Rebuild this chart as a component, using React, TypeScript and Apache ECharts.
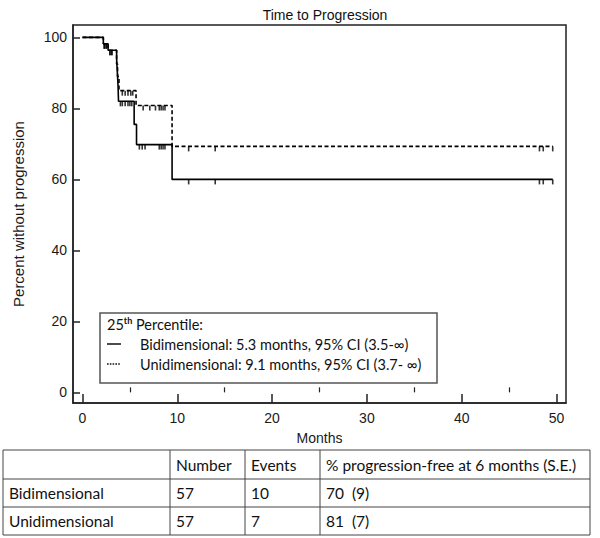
import React, { useEffect, useRef } from "react";
import * as echarts from "echarts";

// ---------- data ----------
const xTickValues = [0, 10, 20, 30, 40, 50];
const xMinorTickValues = [5, 15, 25, 35, 45];
const yTickValues = [0, 20, 40, 60, 80, 100];

// Kaplan-Meier step points (time in months, % without progression)
const biTimes = [0, 2.2, 2.7, 3.6, 3.65, 3.7, 3.75, 3.8, 5.45, 5.7, 9.45, 49.6];
const biSurvival = [100, 98.2, 96.4, 94, 91.5, 89, 86.5, 82, 75.5, 69.8, 60, 60];
const uniTimes = [0, 2.2, 2.7, 3.6, 3.7, 3.85, 5.65, 9.45, 49.6];
const uniSurvival = [100, 98.2, 96.4, 92.5, 89, 85, 80.8, 69.3, 69.3];

// censored observations (months)
const biCensored = [2.3, 2.5, 2.9, 3.1, 4.0, 4.2, 4.5, 4.8, 5.0, 5.2, 6.0, 6.3, 6.6, 8.1, 8.3, 8.5, 8.7, 11.2, 14.0, 48.2, 48.6, 49.6];
const uniCensored = [2.3, 2.5, 2.9, 3.1, 4.2, 4.5, 4.8, 5.1, 5.3, 6.4, 7.1, 7.7, 8.1, 8.3, 8.5, 8.7, 11.2, 14.0, 48.2, 48.6, 49.6];

const legendHeading = ["25", "th", " Percentile:"];
const legendLabels = [
  "Bidimensional: 5.3 months, 95% CI (3.5-\u221e)",
  "Unidimensional: 9.1 months, 95% CI (3.7- \u221e)",
];

const tableHeader = ["", "Number", "Events", "% progression-free at 6 months (S.E.)"];
const tableGroups = ["Bidimensional", "Unidimensional"];
const tableNumber = ["57", "57"];
const tableEvents = ["10", "7"];
const tableProgFree = ["70  (9)", "81  (7)"];

// ---------- helpers ----------
const zip = (xs: number[], ys: number[]) => xs.map((x, i) => [x, ys[i]]);
const survivalAt = (times: number[], surv: number[], t: number) => {
  let v = surv[0];
  for (let i = 0; i < times.length; i++) if (times[i] <= t) v = surv[i];
  return v;
};

const FONT = "Liberation Sans";
const TFONT = "Lato";

export default function App() {
  const ref = useRef<HTMLDivElement>(null);

  useEffect(() => {
    if (!ref.current) return;
    const chart = echarts.init(ref.current, undefined, { renderer: "svg" });

    const graphics: any[] = [];

    // legend box
    const lx = 100, ly = 313, lw = 337, lh = 70;
    graphics.push({
      type: "rect",
      shape: { x: lx, y: ly, width: lw, height: lh },
      style: { fill: "#fff", stroke: "#555", lineWidth: 1.5 },
      z: 10,
    });
    graphics.push({
      type: "text",
      x: lx + 7,
      y: ly + 11,
      z: 11,
      style: {
        text: `{a|${legendHeading[0]}}{s|${legendHeading[1]}}{a|${legendHeading[2]}}`,
        verticalAlign: "middle",
        rich: {
          a: { fontFamily: TFONT, fontSize: 14.5, fill: "#111", verticalAlign: "bottom", lineHeight: 16 },
          s: { fontFamily: TFONT, fontSize: 9, fill: "#111", verticalAlign: "top", lineHeight: 16, fontWeight: "bold" },
        },
      },
    });
    legendLabels.forEach((lab, i) => {
      const yy = ly + 31 + i * 20;
      graphics.push({
        type: "line",
        z: 11,
        shape: { x1: lx + 7, y1: yy, x2: lx + 21, y2: yy },
        style: { stroke: "#111", lineWidth: i === 0 ? 1.5 : 1.3, lineDash: i === 0 ? null : [1.6, 1.2] },
      });
      graphics.push({
        type: "text",
        x: lx + 40,
        y: yy,
        z: 11,
        style: { text: lab, fontFamily: TFONT, fontSize: 14.5, fill: "#111", verticalAlign: "middle" },
      });
    });

    // table
    const colX = [3, 170, 245, 320, 590];
    const rowY = [450, 479, 507, 535];
    graphics.push({
      type: "rect",
      shape: { x: colX[0], y: rowY[0], width: colX[4] - colX[0], height: rowY[3] - rowY[0] },
      style: { fill: "none", stroke: "#444", lineWidth: 1 },
    });
    for (let r = 1; r < rowY.length - 1; r++) {
      graphics.push({
        type: "line",
        shape: { x1: colX[0], y1: rowY[r], x2: colX[4], y2: rowY[r] },
        style: { stroke: "#444", lineWidth: 1 },
      });
    }
    for (let c = 1; c < colX.length - 1; c++) {
      graphics.push({
        type: "line",
        shape: { x1: colX[c], y1: rowY[0], x2: colX[c], y2: rowY[3] },
        style: { stroke: "#444", lineWidth: 1 },
      });
    }
    const rows = [
      tableHeader,
      ...tableGroups.map((g, i) => [g, tableNumber[i], tableEvents[i], tableProgFree[i]]),
    ];
    rows.forEach((row, r) => {
      row.forEach((cell, c) => {
        if (!cell) return;
        graphics.push({
          type: "text",
          x: colX[c] + 6,
          y: (rowY[r] + rowY[r + 1]) / 2,
          style: { text: cell, fontFamily: TFONT, fontSize: 15.5, fill: "#111", verticalAlign: "middle" },
        });
      });
    });

    const axisLabelStyle = { fontFamily: FONT, fontSize: 14, color: "#1a1a1a" };

    chart.setOption({
      animation: false,
      backgroundColor: "#fff",
      title: {
        text: "Time to Progression",
        left: 320,
        top: 3,
        textAlign: "center",
        textStyle: { fontFamily: FONT, fontSize: 14, fontWeight: "normal", color: "#111" },
      },
      grid: {
        left: 73,
        top: 25,
        width: 493,
        height: 378,
        show: true,
        borderColor: "#222",
        borderWidth: 1.5,
        backgroundColor: "transparent",
      },
      xAxis: [
        {
          type: "value",
          min: -1,
          max: 51,
          name: "Months",
          nameLocation: "middle",
          nameGap: 28,
          nameTextStyle: { fontFamily: FONT, fontSize: 14, color: "#1a1a1a" },
          axisLine: { show: true, onZero: false, lineStyle: { color: "#222", width: 1.5 } },
          axisTick: { show: true, inside: true, length: 9, customValues: xTickValues, lineStyle: { color: "#222", width: 1.5 } },
          axisLabel: { ...axisLabelStyle, margin: 8, customValues: xTickValues },
          splitLine: { show: false },
        },
        {
          type: "value",
          min: -1,
          max: 51,
          position: "bottom",
          axisLine: { show: false },
          axisTick: { show: true, inside: true, length: 5, customValues: xMinorTickValues, lineStyle: { color: "#222", width: 1.2 } },
          axisLabel: { show: false },
          splitLine: { show: false },
        },
      ],
      yAxis: {
        type: "value",
        min: -3,
        max: 103.5,
        name: "Percent without progression",
        nameLocation: "middle",
        nameGap: 47,
        nameTextStyle: { fontFamily: FONT, fontSize: 15, color: "#1a1a1a" },
        axisLine: { show: true, onZero: false, lineStyle: { color: "#222", width: 1.5 } },
        axisTick: { show: true, inside: true, length: 7, customValues: yTickValues, lineStyle: { color: "#222", width: 1.5 } },
        axisLabel: { ...axisLabelStyle, margin: 6, customValues: yTickValues },
        splitLine: { show: false },
      },
      series: [
        {
          name: "Bidimensional",
          type: "line",
          step: "end",
          symbol: "none",
          data: zip(biTimes, biSurvival),
          lineStyle: { color: "#000", width: 1.6 },
          z: 3,
        },
        {
          name: "Unidimensional",
          type: "line",
          step: "end",
          symbol: "none",
          data: zip(uniTimes, uniSurvival),
          lineStyle: { color: "#000", width: 1.6, type: [4, 2.5] },
          z: 4,
        },
        {
          name: "Bidimensional censored",
          type: "scatter",
          symbol: "rect",
          symbolSize: [1.6, 5],
          symbolOffset: [0, 2.5],
          itemStyle: { color: "#000" },
          data: biCensored.map((t) => [t, survivalAt(biTimes, biSurvival, t)]),
          z: 5,
        },
        {
          name: "Unidimensional censored",
          type: "scatter",
          symbol: "rect",
          symbolSize: [1.6, 5],
          symbolOffset: [0, 2.5],
          itemStyle: { color: "#000" },
          data: uniCensored.map((t) => [t, survivalAt(uniTimes, uniSurvival, t)]),
          z: 5,
        },
      ],
      graphic: graphics,
    });

    return () => chart.dispose();
  }, []);

  return (
    <div
      ref={ref}
      style={{ position: "fixed", left: 0, top: 0, width: 600, height: 538, background: "#fff" }}
    />
  );
}
